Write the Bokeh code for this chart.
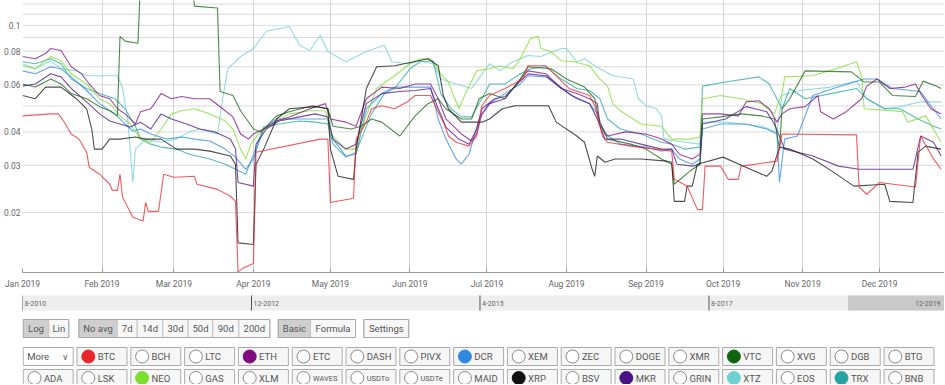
from datetime import datetime, timedelta
from bokeh.plotting import figure
from bokeh.layouts import column
from bokeh.models import Range1d, FixedTicker, MonthsTicker, DatetimeTickFormatter, CustomJSTickFormatter, Span
from bokeh.embed import file_html
from bokeh.resources import INLINE
from bokeh.core.properties import value

YEAR_START = datetime(2019, 1, 1)

# 30-day volatility, as (day of 2019, value)
BTC = [(0,0.0459),(11,0.0467),(14,0.0467),(16,0.0439),(19,0.0393),(22,0.0376),(25,0.0336),(26,0.0295),(30,0.0278),(34,0.0255),(35,0.0242),(37,0.0242),(38,0.0278),(39,0.0228),(43,0.0192),(47,0.0186),(48,0.0218),(49,0.0202),(53,0.0202),(55,0.0278),(59,0.0271),(67,0.0273),(68,0.0255),(76,0.0244),(81,0.0230),(83,0.0220),(84,0.0120),(86,0.0124),(90,0.0129),(91,0.0336),(116,0.0376),(119,0.0376),(120,0.0218),(129,0.0226),(130,0.0376),(134,0.0435),(136,0.0488),(140,0.0501),(145,0.0488),(150,0.0518),(153,0.0547),(159,0.0547),(162,0.0475),(164,0.0435),(166,0.0386),(169,0.0366),(174,0.0354),(177,0.0386),(179,0.0501),(182,0.0547),(188,0.0581),(195,0.0630),(197,0.0706),(204,0.0706),(208,0.0648),(213,0.0581),(221,0.0547),(223,0.0501),(226,0.0386),(228,0.0366),(237,0.0354),(253,0.0339),(254,0.0266),(259,0.0251),(263,0.0205),(265,0.0205),(266,0.0298),(272,0.0298),(275,0.0266),(279,0.0266),(280,0.0298),(294,0.0311),(296,0.0393),(325,0.0390),(326,0.0249),(329,0.0234),(334,0.0259),(348,0.0249),(350,0.0386),(355,0.0317),(358,0.0290)]
XRP = [(0,0.0547),(5,0.0532),(9,0.0588),(15,0.0588),(21,0.0532),(25,0.0488),(27,0.0410),(28,0.0345),(31,0.0345),(34,0.0376),(38,0.0376),(44,0.0383),(48,0.0376),(54,0.0376),(60,0.0345),(67,0.0345),(73,0.0339),(81,0.0325),(83,0.0303),(84,0.0154),(90,0.0152),(91,0.0303),(94,0.0345),(99,0.0447),(104,0.0488),(114,0.0497),(119,0.0488),(120,0.0345),(123,0.0273),(129,0.0266),(130,0.0345),(134,0.0581),(138,0.0700),(145,0.0706),(158,0.0750),(162,0.0706),(164,0.0547),(166,0.0488),(171,0.0435),(179,0.0435),(182,0.0447),(187,0.0488),(192,0.0501),(205,0.0501),(208,0.0435),(216,0.0386),(219,0.0366),(222,0.0290),(223,0.0273),(224,0.0325),(227,0.0308),(231,0.0317),(241,0.0317),(251,0.0311),(253,0.0308),(254,0.0220),(258,0.0220),(259,0.0251),(261,0.0251),(263,0.0303),(273,0.0322),(281,0.0298),(290,0.0273),(292,0.0285),(295,0.0351),(299,0.0345),(308,0.0317),(316,0.0283),(324,0.0251),(336,0.0255),(338,0.0220),(347,0.0218),(349,0.0336),(352,0.0354),(358,0.0345)]
VTC = [(0,0.0604),(5,0.0588),(11,0.0630),(15,0.0604),(19,0.0556),(25,0.0532),(30,0.0497),(34,0.0480),(37,0.0459),(38,0.0910),(40,0.0873),(45,0.0857),(46,0.150),(66,0.150),(67,0.118),(76,0.116),(77,0.0566),(82,0.0547),(85,0.0480),(90,0.0410),(93,0.0400),(99,0.0459),(104,0.0476),(113,0.0501),(119,0.0488),(121,0.0420),(128,0.0410),(132,0.0420),(136,0.0447),(140,0.0435),(147,0.0386),(153,0.0459),(158,0.0510),(162,0.0532),(165,0.0488),(171,0.0447),(175,0.0447),(178,0.0532),(182,0.0556),(188,0.0532),(194,0.0630),(197,0.0700),(206,0.0688),(212,0.0630),(219,0.0588),(223,0.0532),(225,0.0428),(228,0.0376),(237,0.0360),(243,0.0345),(249,0.0317),(253,0.0303),(254,0.0255),(260,0.0285),(264,0.0303),(265,0.0447),(272,0.0455),(280,0.0467),(288,0.0459),(293,0.0447),(295,0.0345),(296,0.0488),(299,0.0532),(305,0.0676),(323,0.0670),(328,0.0614),(334,0.0614),(339,0.0547),(348,0.0542),(351,0.0619),(356,0.0593),(358,0.0581)]
XTZ = [(0,0.0719),(5,0.0688),(11,0.0737),(15,0.0688),(21,0.0676),(25,0.0648),(30,0.0648),(37,0.0648),(39,0.0581),(41,0.0447),(43,0.0259),(44,0.0345),(48,0.0376),(54,0.0366),(60,0.0376),(65,0.0400),(69,0.0410),(73,0.0400),(76,0.0393),(78,0.0532),(80,0.0688),(85,0.0765),(90,0.0819),(95,0.0950),(104,0.0990),(108,0.0842),(112,0.0805),(116,0.0918),(119,0.0798),(126,0.0731),(134,0.0798),(141,0.0842),(144,0.0731),(150,0.0719),(155,0.0737),(160,0.0719),(163,0.0630),(169,0.0604),(175,0.0581),(182,0.0719),(186,0.0676),(191,0.0731),(197,0.0771),(202,0.0765),(210,0.0819),(212,0.0819),(216,0.0731),(219,0.0750),(223,0.0706),(225,0.0688),(230,0.0648),(238,0.0630),(240,0.0532),(243,0.0501),(247,0.0488),(249,0.0459),(250,0.0376),(258,0.0366),(264,0.0360),(265,0.0435),(274,0.0435),(288,0.0420),(294,0.0400),(296,0.0547),(303,0.0571),(315,0.0588),(325,0.0619),(329,0.0532),(336,0.0488),(342,0.0497),(350,0.0518),(358,0.0518)]
ETH = [(0,0.0765),(5,0.0750),(9,0.0785),(11,0.0819),(15,0.0805),(19,0.0700),(23,0.0659),(26,0.0604),(30,0.0547),(34,0.0532),(37,0.0488),(40,0.0467),(44,0.0428),(46,0.0476),(50,0.0488),(54,0.0556),(58,0.0532),(62,0.0542),(67,0.0532),(73,0.0532),(78,0.0488),(82,0.0455),(85,0.0393),(88,0.0376),(90,0.0393),(94,0.0410),(99,0.0439),(104,0.0455),(112,0.0488),(118,0.0510),(120,0.0447),(126,0.0435),(130,0.0420),(134,0.0532),(140,0.0588),(147,0.0581),(153,0.0604),(159,0.0604),(162,0.0532),(165,0.0447),(171,0.0393),(175,0.0370),(177,0.0393),(179,0.0467),(182,0.0510),(188,0.0532),(194,0.0630),(197,0.0676),(204,0.0659),(210,0.0581),(216,0.0556),(221,0.0532),(224,0.0510),(225,0.0428),(228,0.0386),(235,0.0400),(243,0.0393),(249,0.0376),(253,0.0360),(256,0.0330),(261,0.0317),(264,0.0330),(265,0.0467),(272,0.0467),(279,0.0459),(282,0.0518),(287,0.0523),(291,0.0488),(294,0.0435),(296,0.0467),(299,0.0488),(305,0.0497),(310,0.0547),(311,0.0476),(316,0.0447),(321,0.0476),(327,0.0532),(329,0.0593),(333,0.0630),(338,0.0581),(344,0.0588),(348,0.0604),(350,0.0556),(354,0.0488),(358,0.0467)]
MKR = [(0,0.0593),(5,0.0604),(11,0.0659),(15,0.0642),(19,0.0581),(25,0.0518),(30,0.0467),(34,0.0439),(38,0.0428),(42,0.0417),(46,0.0435),(50,0.0410),(54,0.0467),(58,0.0447),(64,0.0428),(69,0.0410),(75,0.0400),(81,0.0376),(83,0.0345),(84,0.0259),(90,0.0251),(91,0.0360),(95,0.0410),(100,0.0439),(108,0.0455),(114,0.0467),(119,0.0455),(121,0.0376),(126,0.0345),(130,0.0360),(134,0.0510),(140,0.0556),(147,0.0566),(153,0.0571),(159,0.0581),(162,0.0488),(165,0.0417),(170,0.0376),(174,0.0360),(177,0.0410),(179,0.0488),(184,0.0532),(188,0.0542),(194,0.0619),(197,0.0659),(204,0.0648),(208,0.0604),(214,0.0547),(221,0.0510),(224,0.0447),(227,0.0376),(233,0.0376),(241,0.0360),(249,0.0345),(253,0.0345),(255,0.0303),(261,0.0298),(264,0.0303),(265,0.0428),(274,0.0447),(282,0.0497),(290,0.0476),(293,0.0428),(297,0.0345),(308,0.0325),(318,0.0298),(326,0.0290),(347,0.0290),(350,0.0386),(355,0.0366),(358,0.0325)]
NEO = [(0,0.0706),(5,0.0688),(11,0.0765),(15,0.0737),(19,0.0659),(25,0.0604),(30,0.0532),(34,0.0510),(38,0.0459),(42,0.0428),(46,0.0376),(50,0.0366),(54,0.0410),(58,0.0467),(62,0.0480),(67,0.0488),(73,0.0467),(79,0.0439),(82,0.0410),(85,0.0345),(87,0.0317),(89,0.0360),(92,0.0393),(97,0.0428),(104,0.0467),(112,0.0480),(118,0.0480),(120,0.0393),(126,0.0345),(130,0.0345),(132,0.0410),(138,0.0581),(145,0.0648),(151,0.0719),(155,0.0750),(159,0.0750),(163,0.0659),(166,0.0614),(170,0.0488),(173,0.0566),(177,0.0676),(182,0.0688),(186,0.0706),(191,0.0688),(194,0.0750),(198,0.0894),(201,0.0910),(202,0.0819),(206,0.0798),(210,0.0737),(215,0.0731),(221,0.0706),(225,0.0630),(228,0.0593),(230,0.0510),(233,0.0480),(241,0.0428),(249,0.0420),(253,0.0376),(260,0.0376),(264,0.0383),(265,0.0532),(272,0.0547),(280,0.0532),(288,0.0510),(293,0.0467),(296,0.0556),(297,0.0642),(308,0.0648),(317,0.0688),(325,0.0731),(327,0.0648),(328,0.0488),(343,0.0476),(345,0.0435),(352,0.0459),(358,0.0366)]
DCR = [(0,0.0676),(5,0.0659),(11,0.0700),(15,0.0688),(19,0.0642),(25,0.0571),(30,0.0510),(36,0.0467),(40,0.0428),(43,0.0403),(46,0.0410),(50,0.0393),(56,0.0376),(62,0.0383),(67,0.0376),(73,0.0370),(79,0.0345),(83,0.0322),(87,0.0290),(90,0.0317),(94,0.0410),(99,0.0447),(104,0.0447),(114,0.0447),(119,0.0447),(121,0.0376),(126,0.0325),(130,0.0330),(134,0.0488),(140,0.0556),(145,0.0588),(153,0.0588),(159,0.0588),(162,0.0447),(165,0.0376),(169,0.0317),(171,0.0303),(174,0.0330),(178,0.0447),(182,0.0510),(188,0.0556),(194,0.0604),(197,0.0648),(204,0.0642),(210,0.0581),(216,0.0532),(221,0.0510),(224,0.0467),(227,0.0393),(233,0.0360),(243,0.0351),(249,0.0339),(253,0.0345),(256,0.0317),(261,0.0303),(264,0.0317),(265,0.0410),(272,0.0428),(282,0.0428),(290,0.0410),(294,0.0393),(295,0.0259),(297,0.0376),(302,0.0386),(308,0.0547),(316,0.0581),(328,0.0630),(333,0.0630),(339,0.0581),(350,0.0566),(354,0.0501),(358,0.0447)]
TRX = [(0,0.0731),(5,0.0719),(11,0.0750),(15,0.0719),(19,0.0630),(25,0.0581),(30,0.0556),(36,0.0532),(40,0.0488),(44,0.0420),(46,0.0376),(50,0.0360),(54,0.0351),(60,0.0345),(65,0.0330),(73,0.0317),(79,0.0303),(83,0.0290),(87,0.0278),(90,0.0330),(94,0.0417),(100,0.0428),(108,0.0439),(114,0.0435),(119,0.0428),(121,0.0360),(126,0.0322),(130,0.0336),(132,0.0376),(136,0.0467),(141,0.0556),(145,0.0581),(151,0.0688),(155,0.0731),(160,0.0737),(163,0.0556),(167,0.0488),(171,0.0455),(175,0.0455),(179,0.0532),(182,0.0604),(188,0.0604),(194,0.0659),(198,0.0688),(204,0.0700),(210,0.0630),(216,0.0581),(221,0.0571),(225,0.0532),(228,0.0447),(233,0.0410),(241,0.0393),(249,0.0366),(253,0.0360),(258,0.0345),(264,0.0351),(265,0.0593),(274,0.0614),(287,0.0642),(291,0.0604),(296,0.0488),(299,0.0581),(305,0.0532),(315,0.0556),(325,0.0581),(329,0.0532),(336,0.0488),(342,0.0488),(349,0.0447),(355,0.0420),(358,0.0410)]

SERIES_NAMES = ["XTZ", "TRX", "DCR", "NEO", "ETH", "MKR", "VTC", "XRP", "BTC"]
SERIES_DATA = [XTZ, TRX, DCR, NEO, ETH, MKR, VTC, XRP, BTC]
SERIES_COLORS = {"BTC": "#e8262b", "ETH": "#800a80", "DCR": "#2e88e0", "VTC": "#0f640f",
                 "NEO": "#7ede2e", "XRP": "#111111", "MKR": "#4a1288", "XTZ": "#6fd0d0", "TRX": "#26a4a4"}

Y_LABEL_TICKS = [0.02, 0.03, 0.04, 0.06, 0.08, 0.1]
Y_GRID_TICKS = [0.02, 0.03, 0.04, 0.05, 0.06, 0.07, 0.08, 0.09, 0.1, 0.11, 0.12]

NAV_LABELS = ["8-2010", "12-2012", "4-2015", "8-2017"]
NAV_DATES = [datetime(2010, 8, 1), datetime(2012, 12, 1), datetime(2015, 4, 1), datetime(2017, 8, 1)]
NAV_END_LABEL = "12-2019"

CONTROL_GROUPS = [["Log", "Lin"], ["No avg", "7d", "14d", "30d", "50d", "90d", "200d"], ["Basic", "Formula"], ["Settings"]]
CONTROL_SELECTED = ["Log", "No avg", "Basic"]
LEGEND_ROW2 = ["BTC", "BCH", "LTC", "ETH", "ETC", "DASH", "PIVX", "DCR", "XEM", "ZEC", "DOGE", "XMR", "VTC", "XVG", "DGB", "BTG"]
LEGEND_ROW3 = ["ADA", "LSK", "NEO", "GAS", "XLM", "WAVES", "USDTo", "USDTe", "MAID", "XRP", "BSV", "MKR", "GRIN", "XTZ", "EOS", "TRX", "BNB"]

FONT = value("Roboto")
W = 944
LEFT = 22
X_END = YEAR_START + timedelta(days=359.3)

# ---------------- main chart ----------------
p = figure(width=W, height=292, x_axis_type="datetime", y_axis_type="log",
           x_range=Range1d(YEAR_START, X_END),
           y_range=Range1d(0.01194, 0.1238),
           output_backend="svg", toolbar_location=None,
           min_border_left=LEFT, min_border_right=0, min_border_top=0, min_border_bottom=20)
p.outline_line_color = None
p.background_fill_color = "white"
p.border_fill_color = "white"

# horizontal grid at every 0.01 (only some are labelled)
for t in Y_GRID_TICKS:
    p.add_layout(Span(location=t, dimension="width", line_color="#dadada", line_width=1, level="underlay"))
p.ygrid.visible = False

for name, data in zip(SERIES_NAMES, SERIES_DATA):
    xs = [YEAR_START + timedelta(days=d) for d, _ in data]
    ys = [v for _, v in data]
    p.line(xs, ys, line_color=SERIES_COLORS[name], line_width=1.1, line_alpha=0.75)

p.yaxis.ticker = FixedTicker(ticks=Y_LABEL_TICKS)
p.yaxis.formatter = CustomJSTickFormatter(code="return String(Math.round(tick*100)/100);")
p.yaxis.axis_line_color = None
p.yaxis.major_tick_line_color = None
p.yaxis.minor_tick_line_color = None
p.yaxis.major_tick_out = 0
p.yaxis.major_tick_in = 0
p.yaxis.minor_tick_out = 0
p.yaxis.minor_tick_in = 0
p.yaxis.major_label_standoff = 2
p.yaxis.major_label_text_font = "Roboto"
p.yaxis.major_label_text_font_size = "8.5px"
p.yaxis.major_label_text_color = "#666666"

p.xaxis.ticker = MonthsTicker(months=list(range(12)))
p.xaxis.formatter = DatetimeTickFormatter(months="%b %Y", days="%b %Y")
p.xaxis.axis_line_color = "#9a9a9a"
p.xaxis.major_tick_line_color = "#9a9a9a"
p.xaxis.major_tick_in = 4
p.xaxis.major_tick_out = 0
p.xaxis.minor_tick_out = 0
p.xaxis.minor_tick_in = 0
p.xaxis.minor_tick_line_color = None
p.xaxis.major_label_standoff = 6
p.xaxis.major_label_text_font = "Roboto"
p.xaxis.major_label_text_font_size = "8.5px"
p.xaxis.major_label_text_color = "#666666"
p.xgrid.grid_line_color = "#d3d3d3"

# ---------------- navigator ----------------
nav_start = NAV_DATES[0]
NH = 20
nav = figure(width=W, height=NH, x_axis_type="datetime",
             x_range=Range1d(nav_start, X_END), y_range=Range1d(NH, 0),
             output_backend="svg", toolbar_location=None,
             x_axis_location=None, y_axis_location=None,
             min_border_left=LEFT, min_border_right=0, min_border_top=0, min_border_bottom=0)
nav.outline_line_color = None
nav.grid.visible = False
nav.quad(left=[nav_start], right=[X_END], top=[3], bottom=[18], fill_color="#eeeeee", line_color=None)
nav.quad(left=[YEAR_START], right=[X_END], top=[3], bottom=[18], fill_color="#c9c9c9", line_color=None)
nav.segment(x0=NAV_DATES, x1=NAV_DATES, y0=[3] * len(NAV_DATES), y1=[18] * len(NAV_DATES),
            line_color="#555555", line_width=1)
nav.text(x=NAV_DATES, y=[10.5] * len(NAV_DATES), text=NAV_LABELS, x_offset=2,
         text_font=FONT, text_font_size="7px", text_color="#666666",
         text_align="left", text_baseline="middle")
nav.text(x=[X_END], y=[10.5], text=[NAV_END_LABEL], x_offset=-4,
         text_font=FONT, text_font_size="7px", text_color="#666666",
         text_align="right", text_baseline="middle")

# ---------------- buttons (coordinates are page pixels) ----------------
BH = 72
b = figure(width=W, height=BH, x_range=Range1d(LEFT, W), y_range=Range1d(BH, 0),
           output_backend="svg", toolbar_location=None,
           x_axis_location=None, y_axis_location=None,
           min_border_left=LEFT, min_border_right=0, min_border_top=0, min_border_bottom=0)
b.outline_line_color = None
b.grid.visible = False

group_starts = [22.7, 78.3, 277.7, 363.3]
btn_widths = {"Log": 25.6, "Lin": 20, "No avg": 38.4, "7d": 20, "14d": 25.6, "30d": 25.4,
              "50d": 24.6, "90d": 26, "200d": 31, "Basic": 32.3, "Formula": 45, "Settings": 45}
r1_top, r1_bot = 7, 25
for start, group in zip(group_starts, CONTROL_GROUPS):
    x = start
    lefts, rights, fills, centers = [], [], [], []
    for lab in group:
        w = btn_widths[lab]
        lefts.append(x); rights.append(x + w); centers.append(x + w / 2)
        fills.append("#cfcfcf" if lab in CONTROL_SELECTED else "#f7f7f7")
        x += w
    b.quad(left=lefts, right=rights, top=[r1_top] * len(group), bottom=[r1_bot] * len(group),
           fill_color=fills, line_color="#c4c4c4", line_width=1)
    b.quad(left=[start], right=[x], top=[r1_top], bottom=[r1_bot], fill_color=None,
           line_color="#a8a8a8", line_width=1)
    b.text(x=centers, y=[(r1_top + r1_bot) / 2] * len(group), text=group,
           text_font=FONT, text_font_size="9.5px", text_color="#555555",
           text_align="center", text_baseline="middle")

pitch, bw = 53.8, 50
rows = [(35, 53, ["More"] + LEGEND_ROW2), (57, 74, LEGEND_ROW3)]
for top, bot, names in rows:
    mid = (top + bot) / 2
    lefts = [22.7 + i * pitch for i in range(len(names))]
    b.quad(left=lefts, right=[l + bw for l in lefts], top=[top] * len(names), bottom=[bot] * len(names),
           fill_color=["white" if n == "More" else "#f6f6f6" for n in names],
           line_color="#aaaaaa", line_width=1)
    leg_names = [n for n in names if n != "More"]
    leg_lefts = [l for l, n in zip(lefts, names) if n != "More"]
    b.scatter(x=[l + 11.3 for l in leg_lefts], y=[mid] * len(leg_names), size=13,
              fill_color=[SERIES_COLORS.get(n, "white") for n in leg_names],
              line_color=[SERIES_COLORS.get(n, "#8a8a8a") for n in leg_names], line_width=1)
    big = [(l, n) for l, n in zip(leg_lefts, leg_names) if n not in ("WAVES", "USDTo", "USDTe")]
    small = [(l, n) for l, n in zip(leg_lefts, leg_names) if n in ("WAVES", "USDTo", "USDTe")]
    b.text(x=[l + 20.7 for l, _ in big], y=[mid] * len(big), text=[n for _, n in big],
           text_font=FONT, text_font_size="9.5px", text_color="#555555",
           text_align="left", text_baseline="middle")
    if small:
        b.text(x=[l + 20.7 for l, _ in small], y=[mid] * len(small), text=[n for _, n in small],
               text_font=FONT, text_font_size="7.5px", text_color="#555555",
               text_align="left", text_baseline="middle")
    if "More" in names:
        b.text(x=[lefts[0] + 4], y=[mid], text=["More"], text_font=FONT, text_font_size="9.5px",
               text_color="#555555", text_align="left", text_baseline="middle")
        b.text(x=[lefts[0] + 42], y=[mid], text=["\u2228"], text_font=value("DejaVu Sans"),
               text_font_size="9px", text_color="#666666", text_align="center", text_baseline="middle")

layout = column(p, nav, b, spacing=0)
open("out.html", "w").write(file_html(layout, INLINE))
